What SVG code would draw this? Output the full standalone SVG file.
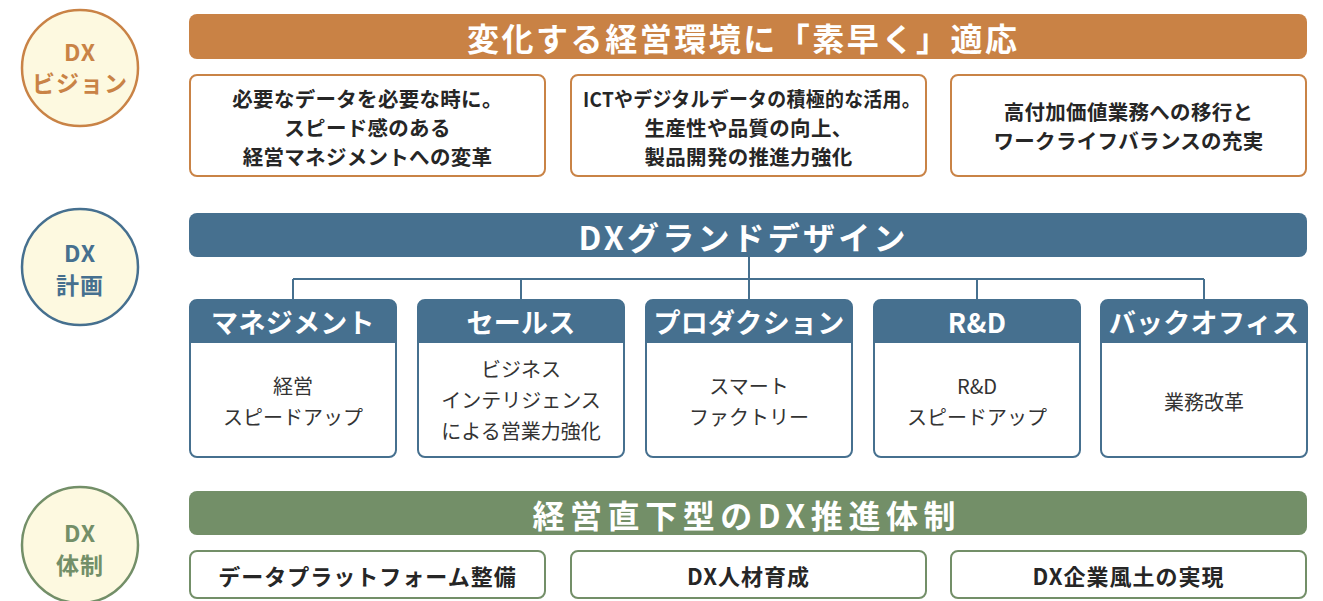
<svg xmlns="http://www.w3.org/2000/svg" width="1323" height="601" viewBox="0 0 1323 601">
<style>
text{font-family:"Noto Sans CJK JP","Noto Sans",sans-serif;text-anchor:middle;dominant-baseline:central}
.circ{fill:#fdf9e0;stroke-width:2.5}
.ctxt{font-size:23px;font-weight:700;letter-spacing:1px}
.bartxt{font-size:32px;font-weight:700;fill:#fff}
.obox{fill:#fff;stroke:#c98346;stroke-width:2}
.gbox{fill:#fff;stroke:#738f68;stroke-width:2}
.bbox{fill:#fff;stroke:#46708f;stroke-width:2}
.btxt{font-size:20.5px;font-weight:700;fill:#262626;letter-spacing:0.3px}
.stxt{font-size:22px;font-weight:700;fill:#262626;letter-spacing:1px}
.htxt{font-size:27px;font-weight:700;fill:#fff;letter-spacing:0.3px}
.body{font-size:20px;font-weight:400;fill:#333}
.conn{fill:none;stroke:#46708f;stroke-width:2}
</style>

<g id="circle-vision">
<circle class="circ" cx="80" cy="68" r="58" stroke="#c98346"/>
<text class="ctxt" x="80" y="51" fill="#c98346">DX</text>
<text class="ctxt" x="80" y="82" fill="#c98346">ビジョン</text>
</g>
<g id="circle-plan">
<circle class="circ" cx="80" cy="267" r="58" stroke="#46708f"/>
<text class="ctxt" x="80" y="252" fill="#46708f">DX</text>
<text class="ctxt" x="80" y="284" fill="#46708f">計画</text>
</g>
<g id="circle-system">
<circle class="circ" cx="80" cy="545" r="58" stroke="#738f68"/>
<text class="ctxt" x="80" y="532" fill="#738f68">DX</text>
<text class="ctxt" x="80" y="564" fill="#738f68">体制</text>
</g>

<g id="bar-vision">
<rect x="189" y="14" width="1118" height="45" rx="8" fill="#c98245"/>
<text class="bartxt" x="742" y="37" textLength="550" lengthAdjust="spacing">変化する経営環境に「素早く」適応</text>
</g>
<g id="vision-1">
<rect class="obox" x="190" y="75" width="355" height="101" rx="7"/>
<text class="btxt" x="367.5" y="98">必要なデータを必要な時に。</text>
<text class="btxt" x="367.5" y="127">スピード感のある</text>
<text class="btxt" x="367.5" y="156">経営マネジメントへの変革</text>
</g>
<g id="vision-2">
<rect class="obox" x="571" y="75" width="355" height="101" rx="7"/>
<text class="btxt" x="752" y="98" textLength="338" lengthAdjust="spacingAndGlyphs">ICTやデジタルデータの積極的な活用。</text>
<text class="btxt" x="748.5" y="127">生産性や品質の向上、</text>
<text class="btxt" x="748.5" y="156">製品開発の推進力強化</text>
</g>
<g id="vision-3">
<rect class="obox" x="951" y="75" width="355" height="101" rx="7"/>
<text class="btxt" x="1128.5" y="111">高付加価値業務への移行と</text>
<text class="btxt" x="1128.5" y="140">ワークライフバランスの充実</text>
</g>

<g id="bar-plan">
<rect x="189" y="213" width="1118" height="44" rx="8" fill="#46708f"/>
<text class="bartxt" x="742" y="236" textLength="327" lengthAdjust="spacing">DXグランドデザイン</text>
</g>

<g id="connectors">
<path class="conn" d="M749 257V300M293 279H1204M293 279V300M521 279V300M977 279V300M1204 279V300"/>
</g>

<g id="dept-management">
<rect class="bbox" x="190" y="300" width="206" height="157" rx="7"/>
<path d="M190 343V307a7 7 0 0 1 7-7H389a7 7 0 0 1 7 7V343Z" fill="#46708f"/>
<text class="htxt" x="293" y="321">マネジメント</text>
<text class="body" x="293" y="385">経営</text>
<text class="body" x="293" y="416">スピードアップ</text>
</g>
<g id="dept-sales">
<rect class="bbox" x="418" y="300" width="206" height="157" rx="7"/>
<path d="M418 343V307a7 7 0 0 1 7-7H617a7 7 0 0 1 7 7V343Z" fill="#46708f"/>
<text class="htxt" x="521" y="321">セールス</text>
<text class="body" x="521" y="368">ビジネス</text>
<text class="body" x="521" y="399">インテリジェンス</text>
<text class="body" x="521" y="430">による営業力強化</text>
</g>
<g id="dept-production">
<rect class="bbox" x="646" y="300" width="206" height="157" rx="7"/>
<path d="M646 343V307a7 7 0 0 1 7-7H845a7 7 0 0 1 7 7V343Z" fill="#46708f"/>
<text class="htxt" x="749" y="321">プロダクション</text>
<text class="body" x="749" y="385">スマート</text>
<text class="body" x="749" y="416">ファクトリー</text>
</g>
<g id="dept-rd">
<rect class="bbox" x="874" y="300" width="206" height="157" rx="7"/>
<path d="M874 343V307a7 7 0 0 1 7-7H1073a7 7 0 0 1 7 7V343Z" fill="#46708f"/>
<text class="htxt" x="977" y="321">R&amp;D</text>
<text class="body" x="977" y="385">R&amp;D</text>
<text class="body" x="977" y="416">スピードアップ</text>
</g>
<g id="dept-backoffice">
<rect class="bbox" x="1101" y="300" width="206" height="157" rx="7"/>
<path d="M1101 343V307a7 7 0 0 1 7-7H1300a7 7 0 0 1 7 7V343Z" fill="#46708f"/>
<text class="htxt" x="1204" y="321">バックオフィス</text>
<text class="body" x="1204" y="401">業務改革</text>
</g>

<g id="bar-system">
<rect x="189" y="491" width="1118" height="44" rx="8" fill="#738f68"/>
<text class="bartxt" x="744" y="514" textLength="423" lengthAdjust="spacing">経営直下型のDX推進体制</text>
</g>
<g id="system-1">
<rect class="gbox" x="190" y="551" width="355" height="47" rx="7"/>
<text class="stxt" x="367.5" y="575">データプラットフォーム整備</text>
</g>
<g id="system-2">
<rect class="gbox" x="571" y="551" width="355" height="47" rx="7"/>
<text class="stxt" x="748.5" y="575">DX人材育成</text>
</g>
<g id="system-3">
<rect class="gbox" x="951" y="551" width="355" height="47" rx="7"/>
<text class="stxt" x="1128.5" y="575">DX企業風土の実現</text>
</g>
</svg>
